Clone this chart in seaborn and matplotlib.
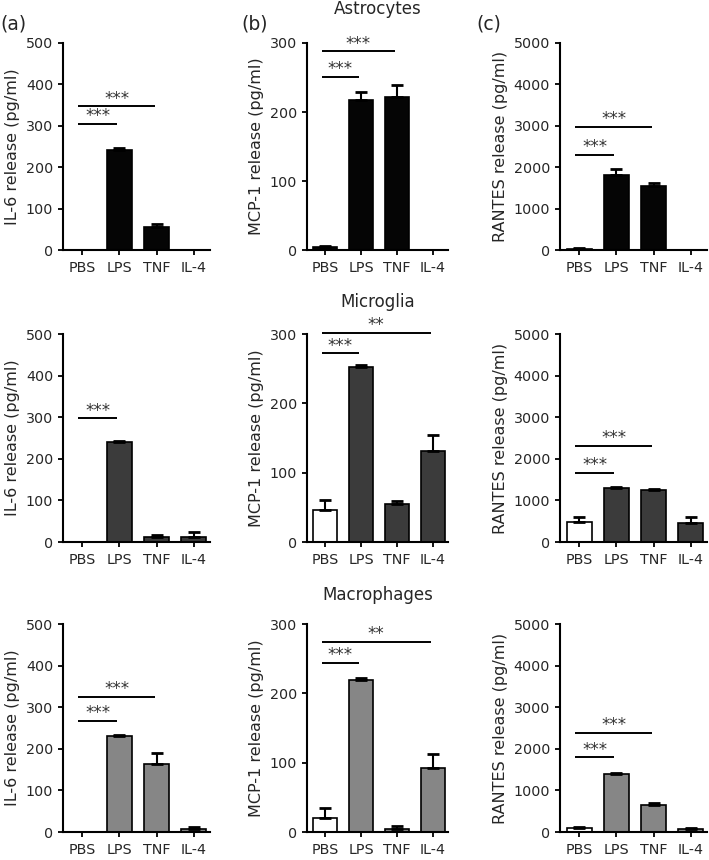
import matplotlib
matplotlib.use("Agg")
import matplotlib.pyplot as plt
import seaborn as sns
import pandas as pd
import numpy as np

sns.set_style("ticks")
plt.rcParams['font.family'] = ['DejaVu Sans']

categories = ["PBS", "LPS", "TNF", "IL-4"]
cell_types = ["Astrocytes", "Microglia", "Macrophages"]
panel_letters = ["(a)", "(b)", "(c)"]
cytokine_labels = ["IL-6 release (pg/ml)", "MCP-1 release (pg/ml)", "RANTES release (pg/ml)"]

# Astrocytes
il6_astro = [0, 242, 55, 0]
il6_astro_err = [0, 5, 7, 0]
mcp1_astro = [4, 218, 222, 0]
mcp1_astro_err = [2, 11, 17, 0]
rantes_astro = [30, 1800, 1550, 0]
rantes_astro_err = [15, 150, 80, 0]

# Microglia
il6_micro = [0, 240, 13, 13]
il6_micro_err = [0, 2, 5, 12]
mcp1_micro = [46, 253, 55, 131]
mcp1_micro_err = [14, 3, 4, 24]
rantes_micro = [470, 1310, 1250, 460]
rantes_micro_err = [140, 20, 20, 130]

# Macrophages
il6_macro = [0, 230, 163, 8]
il6_macro_err = [0, 3, 27, 5]
mcp1_macro = [20, 219, 5, 93]
mcp1_macro_err = [14, 3, 4, 20]
rantes_macro = [100, 1400, 650, 80]
rantes_macro_err = [30, 30, 40, 15]

# significance: (target category index, line height, label)
sig_il6_astro = [(1, 305, "***"), (2, 347, "***")]
sig_mcp1_astro = [(1, 251, "***"), (2, 288, "***")]
sig_rantes_astro = [(1, 2300, "***"), (2, 2970, "***")]
sig_il6_micro = [(1, 297, "***")]
sig_mcp1_micro = [(1, 272, "***"), (3, 302, "**")]
sig_rantes_micro = [(1, 1664, "***"), (2, 2307, "***")]
sig_il6_macro = [(1, 267, "***"), (2, 325, "***")]
sig_mcp1_macro = [(1, 244, "***"), (3, 274, "**")]
sig_rantes_macro = [(1, 1793, "***"), (2, 2387, "***")]

ylims = [500, 300, 5000]
ysteps = [100, 100, 1000]
row_colors = ["#050505", "#3b3b3b", "#868686"]

data = [
    [(il6_astro, il6_astro_err, sig_il6_astro), (mcp1_astro, mcp1_astro_err, sig_mcp1_astro), (rantes_astro, rantes_astro_err, sig_rantes_astro)],
    [(il6_micro, il6_micro_err, sig_il6_micro), (mcp1_micro, mcp1_micro_err, sig_mcp1_micro), (rantes_micro, rantes_micro_err, sig_rantes_micro)],
    [(il6_macro, il6_macro_err, sig_il6_macro), (mcp1_macro, mcp1_macro_err, sig_mcp1_macro), (rantes_macro, rantes_macro_err, sig_rantes_macro)],
]

W, H = 709, 860
fig = plt.figure(figsize=(W / 100, H / 100), dpi=100)

col_x = [(63, 210), (307, 448), (560, 707)]
row_y = [(43, 250), (334, 542), (624, 832)]

for r in range(3):
    for c in range(3):
        x0, x1 = col_x[c]
        y0, y1 = row_y[r]
        ax = fig.add_axes([x0 / W, 1 - y1 / H, (x1 - x0) / W, (y1 - y0) / H])
        vals, errs, sigs = data[r][c]
        colors = [row_colors[r]] * 4
        if r > 0:
            colors[0] = "white"
        df = pd.DataFrame({"cond": categories, "value": vals})
        sns.barplot(data=df, x="cond", y="value", hue="cond", order=categories,
                    hue_order=categories, palette=colors, edgecolor="black",
                    linewidth=1.2, width=0.67, legend=False, ax=ax, saturation=1)
        xs = [i for i in range(4) if vals[i] > 0]
        ax.errorbar(xs, [vals[i] for i in xs],
                    yerr=[[0] * len(xs), [errs[i] for i in xs]],
                    fmt="none", ecolor="black", elinewidth=1.5, capsize=4,
                    capthick=2, zorder=1)
        ax.set_xlim(-0.51, 3.43)
        ax.set_ylim(0, ylims[c])
        ax.set_yticks(np.arange(0, ylims[c] + 1, ysteps[c]))
        ax.set_xlabel("")
        ax.set_ylabel(cytokine_labels[c], fontsize=11.5, labelpad=4)
        ax.tick_params(axis="both", labelsize=10.3, width=1.3, length=3.6, color="black")
        ax.tick_params(axis="x", pad=4)
        ax.tick_params(axis="y", pad=3.5)
        for s in ["top", "right"]:
            ax.spines[s].set_visible(False)
        for s in ["left", "bottom"]:
            ax.spines[s].set_linewidth(1.5)
            ax.spines[s].set_color("black")
        for (j, yv, lab) in sigs:
            ax.plot([-0.1, j - 0.05], [yv, yv], color="black", lw=1.4,
                    clip_on=False, solid_capstyle="butt")
            ax.annotate(lab, xy=((j - 0.15) / 2, yv), xytext=(0, -1),
                        textcoords="offset points", ha="center", va="bottom",
                        fontsize=12, color="#333333", annotation_clip=False)
        if r == 0:
            fig.text([13, 255, 489][c] / W, 1 - 24 / H, panel_letters[c],
                     fontsize=13.5, ha="center", va="center")

fig.text(378 / W, 1 - 9 / H, "Astrocytes", fontsize=12, ha="center", va="center")
fig.text(378 / W, 1 - 302 / H, "Microglia", fontsize=12, ha="center", va="center")
fig.text(378 / W, 1 - 595 / H, "Macrophages", fontsize=12, ha="center", va="center")

fig.savefig("out.png", dpi=100)
